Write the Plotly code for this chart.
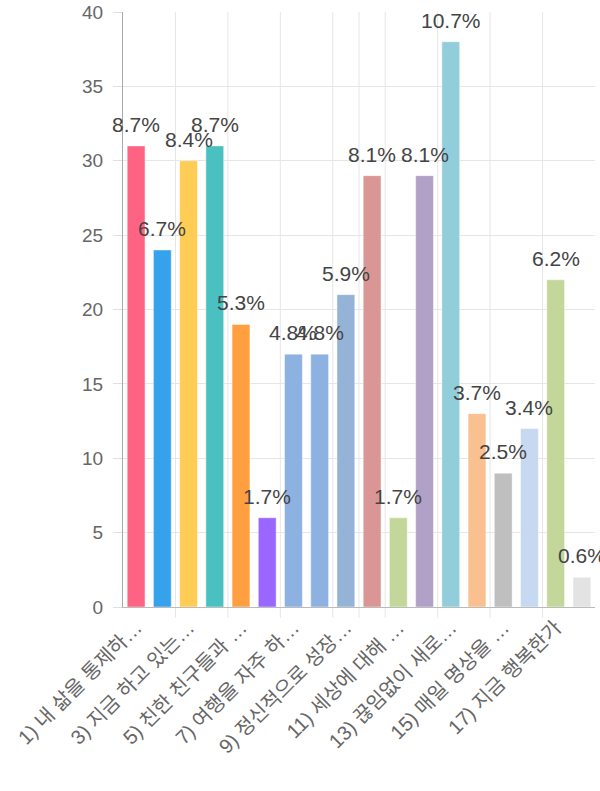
import plotly.graph_objects as go

values = [31, 24, 30, 31, 19, 6, 17, 17, 21, 29, 6, 29, 38, 13, 9, 12, 22, 2]
pct_labels = ["8.7%", "6.7%", "8.4%", "8.7%", "5.3%", "1.7%", "4.8%", "4.8%", "5.9%",
              "8.1%", "1.7%", "8.1%", "10.7%", "3.7%", "2.5%", "3.4%", "6.2%", "0.6%"]
bar_colors = ["#ff6384", "#36a2eb", "#ffcd56", "#4bc0c0", "#ff9f40", "#9966ff",
              "#8db1e1", "#8db1e1", "#95b3d7", "#d99694", "#c4d79b", "#b2a1c7",
              "#92cddc", "#fac08f", "#bfbfbf", "#c6d9f1", "#c4d79b", "#e3e3e3"]
tick_positions = [0, 2, 4, 6, 8, 10, 12, 14, 16]
tick_labels = ["1) 내 삶을 통제하…", "3) 지금 하고 있는…", "5) 친한 친구들과 …",
               "7) 여행을 자주 하…", "9) 정신적으로 성장…", "11) 세상에 대해 …",
               "13) 끊임없이 새로…", "15) 매일 명상을 …", "17) 지금 행복한가"]
grid_boundaries = [1.5, 3.5, 5.5, 7.5, 8.5, 9.5, 11.5, 13.5, 15.5]

x = list(range(len(values)))

fig = go.Figure()
fig.add_trace(go.Bar(
    x=x, y=values, width=0.68,
    marker=dict(color=bar_colors, line=dict(color="rgba(255,255,255,0.45)", width=1)),
    hoverinfo="y",
))

for xi, v, t in zip(x, values, pct_labels):
    fig.add_annotation(x=xi, y=v, text=t, showarrow=False, yanchor="bottom",
                       yshift=8, font=dict(size=21, color="#444"))

for b in grid_boundaries:
    fig.add_shape(type="line", xref="x", yref="paper", x0=b, x1=b, y0=-0.018, y1=1,
                  line=dict(color="#e6e6e6", width=1), layer="below")

fig.update_layout(
    width=600, height=791,
    margin=dict(l=123, r=5, t=12, b=184),
    plot_bgcolor="white", paper_bgcolor="white",
    font=dict(family="Liberation Sans, Arial, Noto Sans CJK KR", color="#666"),
    showlegend=False,
    bargap=0.3,
)
fig.update_xaxes(
    range=[-0.5, 17.5], tickmode="array", tickvals=tick_positions, ticktext=tick_labels,
    tickangle=-45, tickfont=dict(size=20, color="#666", family="Liberation Sans, Noto Sans CJK KR"),
    showgrid=False, zeroline=False, automargin=False,
    showline=True, linecolor="#bbbbbb", linewidth=1,
    ticks="", ticklen=0,
)
fig.update_yaxes(
    range=[0, 40], dtick=5, tickfont=dict(size=19, color="#666"),
    showgrid=True, gridcolor="#e6e6e6", gridwidth=1,
    zeroline=False, showline=True, linecolor="#a8a8a8", linewidth=1,
    ticks="outside", ticklen=9, tickcolor="#e0e0e0", ticklabelstandoff=6,
    ticklabeloverflow="allow", automargin=False,
)

fig.write_html("out.html", config={"displayModeBar": False},
               post_script="document.body.style.margin='0';")
